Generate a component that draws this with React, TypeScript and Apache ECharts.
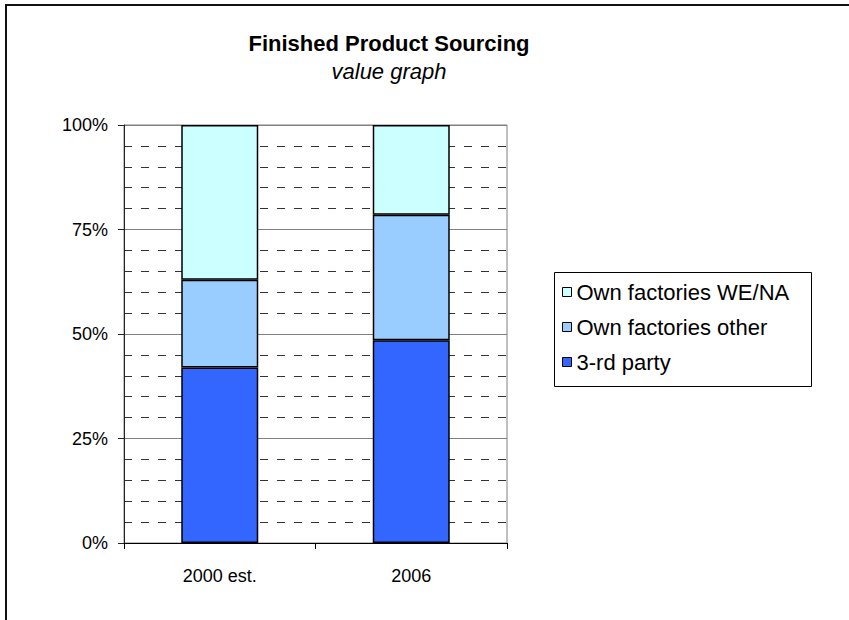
import React, { useEffect, useRef } from "react";
import * as echarts from "echarts";

// Share of finished product sourcing (percent of value)
const categories = ["2000 est.", "2006"];
const thirdParty = [42, 48.5];
const ownFactoriesOther = [21, 30];
const ownFactoriesWeNa = [37, 21.5];
const seriesNames = ["3-rd party", "Own factories other", "Own factories WE/NA"];
const legendOrder = ["Own factories WE/NA", "Own factories other", "3-rd party"];

const FONT = "'Liberation Sans', Arial, sans-serif";

export default function App() {
  const ref = useRef<HTMLDivElement>(null);

  useEffect(() => {
    if (!ref.current) return;
    const chart = echarts.init(ref.current, undefined, { renderer: "svg" });

    const barStyle = (color: string) => ({
      color,
      borderColor: "#000",
      borderWidth: 1.5,
    });

    chart.setOption({
      animation: false,
      backgroundColor: "#fff",
      textStyle: { fontFamily: FONT },
      grid: {
        left: 124,
        top: 125,
        width: 383,
        height: 418,
        show: true,
        borderColor: "#808080",
        borderWidth: 1,
      },
      xAxis: {
        type: "category",
        data: categories,
        axisLine: { lineStyle: { color: "#000", width: 1 } },
        axisTick: { show: true, length: 6, lineStyle: { color: "#000" } },
        axisLabel: { color: "#000", fontSize: 18, fontFamily: FONT, margin: 24 },
      },
      yAxis: {
        type: "value",
        min: 0,
        max: 100,
        interval: 25,
        axisLine: { show: true, lineStyle: { color: "#222", width: 1 } },
        axisTick: { show: true, length: 6, lineStyle: { color: "#222" } },
        axisLabel: {
          color: "#000",
          fontSize: 18,
          fontFamily: FONT,
          margin: 16,
          formatter: "{value}%",
        },
        splitLine: { show: true, lineStyle: { color: "#808080", width: 1 } },
        minorTick: { show: false, splitNumber: 5 },
        minorSplitLine: {
          show: true,
          lineStyle: { color: "#333", width: 1, type: [8, 9] },
        },
      },
      legend: {
        orient: "vertical",
        left: 562,
        top: 281,
        padding: 0,
        itemGap: 13,
        itemWidth: 9,
        itemHeight: 9,
        icon: "rect",
        data: legendOrder,
        itemStyle: { borderColor: "#000", borderWidth: 1 },
        textStyle: {
          color: "#000",
          fontSize: 22,
          lineHeight: 22,
          fontFamily: FONT,
          padding: [0, 0, 0, 0],
        },
      },
      series: [
        {
          name: seriesNames[0],
          type: "bar",
          stack: "total",
          barWidth: 77,
          data: thirdParty,
          itemStyle: barStyle("#3366FF"),
        },
        {
          name: seriesNames[1],
          type: "bar",
          stack: "total",
          barWidth: 77,
          data: ownFactoriesOther,
          itemStyle: barStyle("#99CCFF"),
        },
        {
          name: seriesNames[2],
          type: "bar",
          stack: "total",
          barWidth: 77,
          data: ownFactoriesWeNa,
          itemStyle: barStyle("#CCFFFF"),
        },
      ],
      graphic: [
        {
          type: "line",
          shape: { x1: 5, y1: 5, x2: 849, y2: 5 },
          style: { stroke: "#111", lineWidth: 2 },
        },
        {
          type: "line",
          shape: { x1: 6, y1: 4, x2: 6, y2: 620 },
          style: { stroke: "#111", lineWidth: 2 },
        },
        {
          type: "rect",
          shape: { x: 554.5, y: 272.5, width: 257, height: 114 },
          style: { fill: "none", stroke: "#000", lineWidth: 1 },
        },
        {
          type: "text",
          x: 389,
          y: 43,
          style: {
            text: "Finished Product Sourcing",
            fontSize: 22,
            fontWeight: "bold",
            fontFamily: FONT,
            fill: "#000",
            align: "center",
            verticalAlign: "middle",
          },
        },
        {
          type: "text",
          x: 389,
          y: 71,
          style: {
            text: "value graph",
            fontSize: 22,
            fontStyle: "italic",
            fontFamily: FONT,
            fill: "#000",
            align: "center",
            verticalAlign: "middle",
          },
        },
      ],
    });

    return () => chart.dispose();
  }, []);

  return (
    <div
      ref={ref}
      style={{ position: "fixed", left: 0, top: 0, width: 849, height: 620 }}
    />
  );
}
